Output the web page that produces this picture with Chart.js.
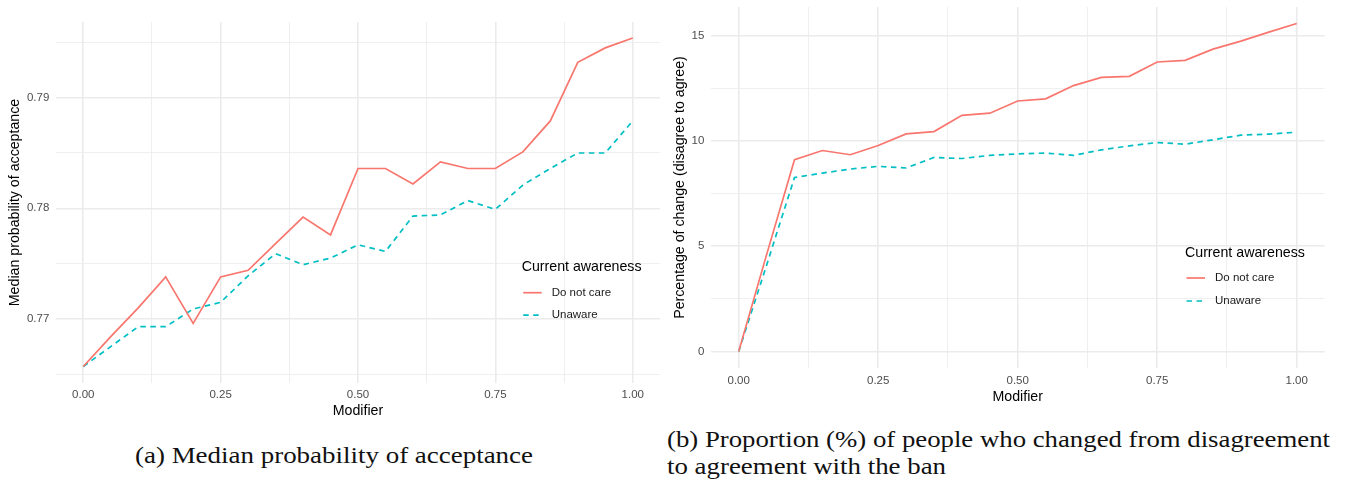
<!DOCTYPE html>
<html><head><meta charset="utf-8">
<script src="https://cdn.jsdelivr.net/npm/chart.js@4"></script>
<style>
html,body{margin:0;padding:0;background:#fff;width:1346px;height:483px;overflow:hidden;}
.wrap{position:absolute;}
.cap{position:absolute;font-family:"Liberation Serif","Times New Roman",serif;font-size:24px;color:#111;white-space:nowrap;transform-origin:0 0;line-height:1;}
</style></head><body>
<div class="wrap" style="left:0;top:0;"><canvas id="c1" width="670" height="420"></canvas></div>
<div class="wrap" style="left:670px;top:0;"><canvas id="c2" width="676" height="420"></canvas></div>
<div class="cap" id="capA" data-w="398" style="left:135px;top:443px">(a) Median probability of acceptance</div>
<div class="cap" id="capB1" data-w="663" style="left:667px;top:427px">(b) Proportion (%) of people who changed from disagreement</div>
<div class="cap" id="capB2" data-w="279" style="left:667px;top:454px">to agreement with the ban</div>
<script>
// ---- data ----
const modifier = [0.00,0.05,0.10,0.15,0.20,0.25,0.30,0.35,0.40,0.45,0.50,0.55,0.60,0.65,0.70,0.75,0.80,0.85,0.90,0.95,1.00];
const acceptDoNotCare = [0.7657,0.7684,0.7710,0.7738,0.7696,0.7738,0.7744,0.7768,0.7792,0.7776,0.7836,0.7836,0.7822,0.7842,0.7836,0.7836,0.7851,0.7879,0.7932,0.7945,0.7954];
const acceptUnaware   = [0.7657,0.7675,0.7693,0.7693,0.7709,0.7715,0.7739,0.7759,0.7749,0.7755,0.7767,0.7761,0.7793,0.7794,0.7807,0.7799,0.7821,0.7836,0.7850,0.7850,0.7879];
const changeDoNotCare = [0,4.6,9.10,9.54,9.34,9.78,10.33,10.44,11.21,11.31,11.89,11.99,12.62,13.01,13.06,13.74,13.82,14.35,14.73,15.16,15.57];
const changeUnaware   = [0,4.1,8.26,8.47,8.66,8.79,8.71,9.21,9.16,9.31,9.38,9.42,9.31,9.57,9.76,9.92,9.84,10.05,10.27,10.32,10.41];
const seriesNames = ["Do not care","Unaware"];
const legendTitle = "Current awareness";
const xTicks  = [0,0.125,0.25,0.375,0.5,0.625,0.75,0.875,1];
const yTicksA = [0.765,0.77,0.775,0.78,0.785,0.79,0.795];
const yTicksB = [0,2.5,5,7.5,10,12.5,15];
const yTitleA = "Median probability of acceptance";
const yTitleB = "Percentage of change (disagree to agree)";
const xTitle = "Modifier";

// ---- styling ----
const RED = "#F8766D", CYAN = "#00BFC4";
const SANS = '"Liberation Sans", Arial, sans-serif';
const GRID = "#EBEBEB";
const isMult = (v, step) => Math.abs(v/step - Math.round(v/step)) < 1e-6;

const legendPlugin = {
  id: 'ggLegend',
  afterDraw(chart, args, o) {
    const ctx = chart.ctx; ctx.save();
    ctx.textBaseline = 'middle'; ctx.textAlign = 'left';
    ctx.fillStyle = '#000'; ctx.font = '14.2px ' + SANS;
    ctx.fillText(legendTitle, o.x, o.titleY);
    chart.data.datasets.forEach((ds, i) => {
      const y = o.itemY + i * o.gap;
      ctx.strokeStyle = ds.borderColor; ctx.lineWidth = ds.borderWidth;
      ctx.setLineDash(ds.borderDash || []);
      ctx.beginPath(); ctx.moveTo(o.x + 1.5, y); ctx.lineTo(o.x + 20, y); ctx.stroke();
      ctx.setLineDash([]);
      ctx.fillStyle = '#1a1a1a'; ctx.font = '11.5px ' + SANS;
      ctx.fillText(ds.label, o.x + 30, y);
    });
    ctx.restore();
  }
};

function makeChart(id, yA, yB, yTicks, yMajor, yFmt, yMin, yMax, geom, legend) {
  const pts = arr => modifier.map((x, i) => ({x, y: arr[i]}));
  return new Chart(document.getElementById(id), {
    type: 'line',
    data: { datasets: [
      {label: seriesNames[0], data: pts(yA), borderColor: RED, borderWidth: 1.7, pointRadius: 0, tension: 0, fill: false},
      {label: seriesNames[1], data: pts(yB), borderColor: CYAN, borderWidth: 1.7, borderDash: [5.5, 4.5], pointRadius: 0, tension: 0, fill: false}
    ]},
    options: {
      responsive: false, animation: false, devicePixelRatio: 1,
      layout: { padding: { left: 0, top: geom.top, right: geom.right, bottom: 0 } },
      plugins: { legend: { display: false }, tooltip: { enabled: false }, ggLegend: legend },
      scales: {
        x: {
          type: 'linear', min: -0.05, max: 1.05,
          afterBuildTicks: s => { s.ticks = xTicks.map(v => ({value: v})); },
          afterFit: s => { s.height = geom.xh; s.paddingLeft = 0; s.paddingRight = 0; },
          border: { display: false },
          grid: { color: GRID, drawTicks: false, lineWidth: c => isMult(c.tick.value, 0.25) ? 1.6 : 0.8 },
          ticks: { autoSkip: false, maxRotation: 0, padding: geom.xpad, color: '#4D4D4D', font: { family: SANS, size: 11.5 },
                   callback: v => isMult(v, 0.25) ? v.toFixed(2) : '' },
          title: { display: true, text: xTitle, color: '#000', font: { family: SANS, size: 14.2 }, padding: { top: 0, bottom: geom.xtpad } }
        },
        y: {
          type: 'linear', min: yMin, max: yMax,
          afterBuildTicks: s => { s.ticks = yTicks.map(v => ({value: v})); },
          afterFit: s => { s.width = geom.yw; s.paddingTop = 0; s.paddingBottom = 0; },
          border: { display: false },
          grid: { color: GRID, drawTicks: false, lineWidth: c => isMult(c.tick.value, yMajor) ? 1.6 : 0.8 },
          ticks: { autoSkip: false, padding: geom.ypad, color: '#4D4D4D', font: { family: SANS, size: 11.5 },
                   callback: v => isMult(v, yMajor) ? yFmt(v) : '' },
          title: { display: true, text: geom.ytitle, color: '#000', font: { family: SANS, size: 14.2 }, padding: { top: geom.ytpad, bottom: 0 } }
        }
      }
    },
    plugins: [legendPlugin]
  });
}

makeChart('c1', acceptDoNotCare, acceptUnaware, yTicksA, 0.01, v => v.toFixed(2), 0.76421, 0.79684,
  { top: 22, right: 9.8, xh: 37, yw: 55.8, xpad: 5, xtpad: 0, ypad: 6.5, ytpad: 7, ytitle: yTitleA },
  { x: 521.7, titleY: 266.7, itemY: 292.7, gap: 22.5 });
makeChart('c2', changeDoNotCare, changeUnaware, yTicksB, 5, v => String(v), -0.78, 16.35,
  { top: 7, right: 21.4, xh: 52, yw: 40.8, xpad: 5.5, xtpad: 14, ypad: 6.5, ytpad: 2, ytitle: yTitleB },
  { x: 515, titleY: 253.3, itemY: 278, gap: 23 });

// fit captions to measured widths
document.querySelectorAll('.cap').forEach(el => {
  const w = el.getBoundingClientRect().width;
  const t = parseFloat(el.dataset.w);
  el.style.transform = 'scaleX(' + (t / w) + ')';
});
</script>
</body></html>
